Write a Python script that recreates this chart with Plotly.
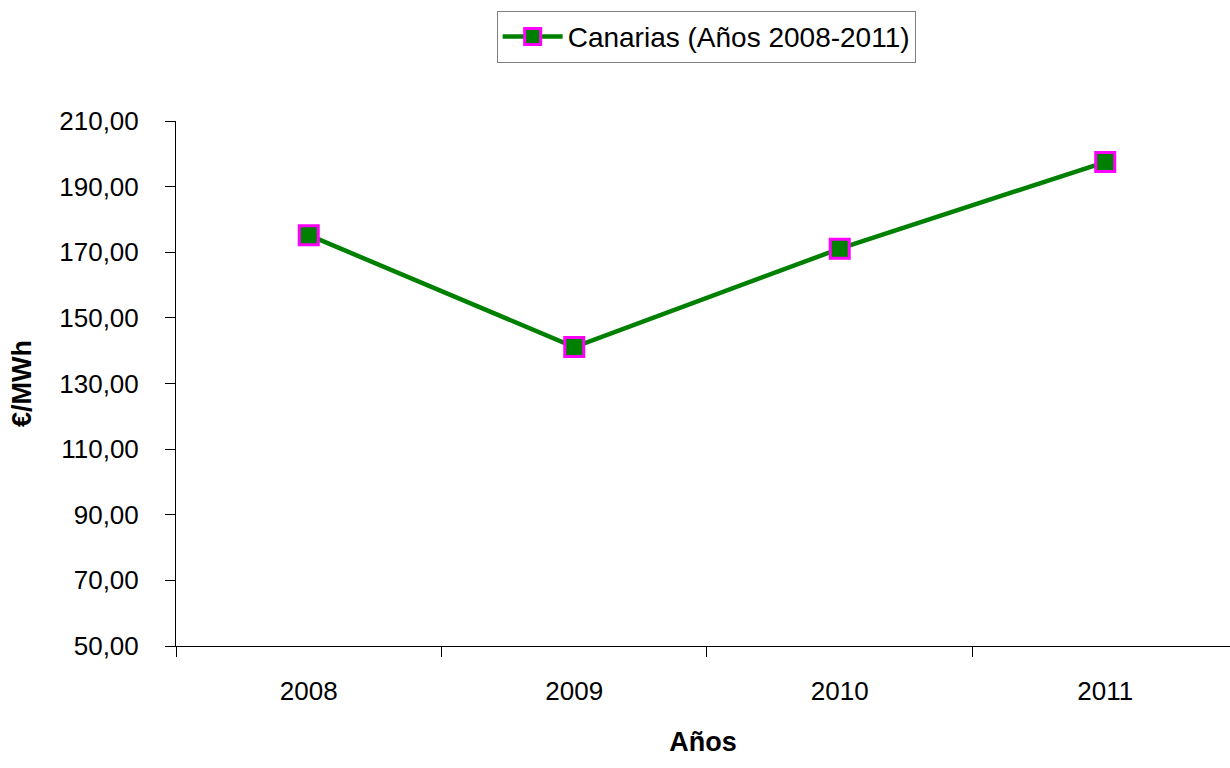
import plotly.graph_objects as go

years = ["2008", "2009", "2010", "2011"]
values = [175.2, 141.1, 171.1, 197.5]
y_ticks = [50, 70, 90, 110, 130, 150, 170, 190, 210]
y_tick_labels = ["50,00", "70,00", "90,00", "110,00", "130,00", "150,00", "170,00", "190,00", "210,00"]
series_name = "Canarias (Años 2008-2011)"

fig = go.Figure()
fig.add_trace(go.Scatter(
    x=years, y=values, mode="lines+markers", name=series_name,
    line=dict(color="#008000", width=4.5),
    marker=dict(symbol="square", size=19, color="#008000",
                line=dict(color="#FF00FF", width=3)),
))

font = "Liberation Sans, Arial, sans-serif"
fig.update_layout(
    width=1230, height=768,
    margin=dict(l=176, r=0, t=121, b=122),
    paper_bgcolor="white", plot_bgcolor="white",
    font=dict(family=font, size=26, color="black"),
    showlegend=True,
    legend=dict(x=0.503, y=1.21, xanchor="center", yanchor="top",
                bordercolor="#808080", borderwidth=1,
                font=dict(size=28), itemwidth=60,
                tracegroupgap=0),
    xaxis=dict(type="category", range=[-0.5, 3.47],
               tickson="boundaries", ticks="outside", ticklen=10,
               tickcolor="black", showline=True, linecolor="black",
               linewidth=1, showgrid=False, zeroline=False,
               ticklabelstandoff=22,
               title=dict(text="<b>Años</b>", standoff=26,
                          font=dict(size=27))),
    yaxis=dict(range=[50, 210], tickvals=y_ticks, ticktext=y_tick_labels,
               ticks="outside", ticklen=10, tickcolor="black",
               showline=True, linecolor="black", linewidth=1,
               showgrid=False, zeroline=False, ticklabelstandoff=21,
               title=dict(text="<b>€/MWh</b>", standoff=19,
                          font=dict(size=27))),
)

fig.write_html("out.html", config={"displayModeBar": False},
               post_script="document.body.style.margin='0';document.body.style.overflow='hidden';")
